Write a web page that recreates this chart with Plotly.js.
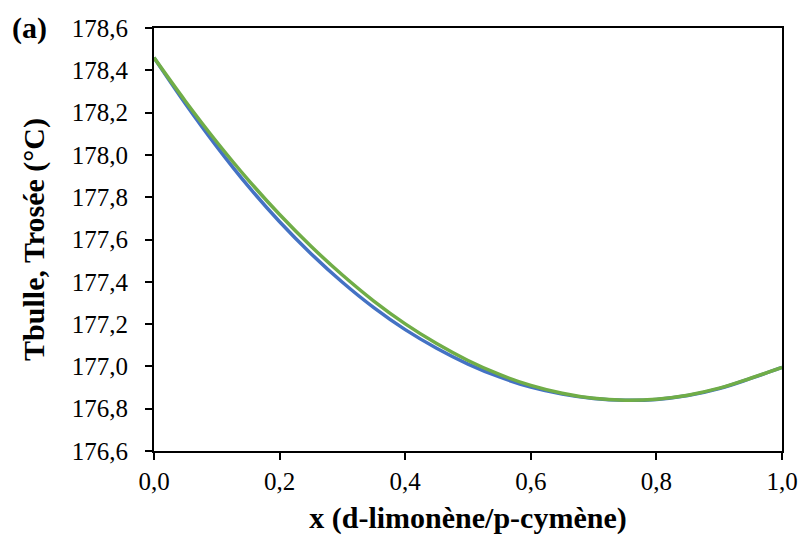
<!DOCTYPE html>
<html>
<head>
<meta charset="utf-8">
<script src="https://cdn.plot.ly/plotly-3.0.1.min.js"></script>
<style>html,body{margin:0;padding:0;background:#fff;}#chart{width:801px;height:545px;}</style>
</head>
<body>
<div id="chart"></div>
<script>
// Composition x (d-limonène / p-cymène)
var xComp = [0, 0.05, 0.1, 0.15, 0.2, 0.25, 0.3, 0.35, 0.4, 0.45, 0.5, 0.55, 0.6, 0.65, 0.7, 0.75, 0.8, 0.85, 0.9, 0.95, 1.0];
// Dew temperature (Trosée, °C) - green
var tRosee = [178.46, 178.254, 178.061, 177.882, 177.718, 177.568, 177.432, 177.309, 177.201, 177.108, 177.028, 176.962, 176.910, 176.873, 176.849, 176.840, 176.845, 176.864, 176.897, 176.944, 176.995];
// Bubble temperature (Tbulle, °C) - blue
var tBulle = [178.46, 178.242, 178.039, 177.852, 177.684, 177.533, 177.398, 177.278, 177.174, 177.086, 177.011, 176.950, 176.902, 176.869, 176.848, 176.840, 176.844, 176.862, 176.895, 176.943, 176.995];

var xTickVals = [0, 0.2, 0.4, 0.6, 0.8, 1.0];
var xTickText = ['0,0', '0,2', '0,4', '0,6', '0,8', '1,0'];
var yTickVals = [176.6, 176.8, 177.0, 177.2, 177.4, 177.6, 177.8, 178.0, 178.2, 178.4, 178.6];
var yTickText = ['176,6', '176,8', '177,0', '177,2', '177,4', '177,6', '177,8', '178,0', '178,2', '178,4', '178,6'];

var font = 'Liberation Serif, Times New Roman, serif';

var traces = [
  {x: xComp, y: tBulle, mode: 'lines', line: {color: '#4472C4', width: 3.5, shape: 'spline'}, name: 'Tbulle', hoverinfo: 'skip'},
  {x: xComp, y: tRosee, mode: 'lines', line: {color: '#70AD47', width: 3.5, shape: 'spline'}, name: 'Trosée', hoverinfo: 'skip'}
];

var layout = {
  width: 801, height: 545,
  margin: {l: 154, r: 19, t: 28, b: 94},
  paper_bgcolor: '#fff', plot_bgcolor: '#fff',
  showlegend: false,
  font: {family: font, color: '#000', size: 25},
  xaxis: {
    range: [0, 1], tickvals: xTickVals, ticktext: xTickText,
    showline: true, mirror: true, linecolor: '#000', linewidth: 2,
    ticks: 'outside', ticklen: 7, tickwidth: 2, tickcolor: '#000',
    showgrid: false, zeroline: false,
    tickfont: {family: font, size: 25, color: '#000'},
    title: {text: '<b>x (d-limonène/p-cymène)</b>', font: {family: font, size: 30, color: '#000'}, standoff: 13}
  },
  yaxis: {
    range: [176.6, 178.6], tickvals: yTickVals, ticktext: yTickText,
    showline: true, mirror: true, linecolor: '#000', linewidth: 2,
    ticks: 'outside', ticklen: 7, tickwidth: 2, tickcolor: '#000',
    ticklabelstandoff: 12,
    showgrid: false, zeroline: false,
    tickfont: {family: font, size: 25, color: '#000'},
    title: {text: '<b>Tbulle, Trosée (°C)</b>', font: {family: font, size: 30, color: '#000'}, standoff: 18}
  },
  annotations: [{
    xref: 'paper', yref: 'paper', x: -0.229, y: 1.0, xanchor: 'left', yanchor: 'middle',
    text: '<b>(a)</b>', showarrow: false, font: {family: font, size: 30, color: '#000'}
  }]
};

Plotly.newPlot('chart', traces, layout, {displayModeBar: false, staticPlot: true});
</script>
</body>
</html>
